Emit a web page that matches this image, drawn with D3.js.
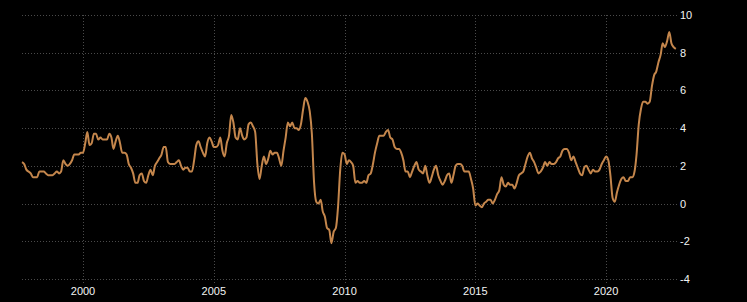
<!DOCTYPE html>
<html>
<head>
<meta charset="utf-8">
<script src="https://cdn.jsdelivr.net/npm/d3@7"></script>
<style>
  html, body { margin: 0; padding: 0; background: #000; }
  svg { display: block; }
</style>
</head>
<body>
<div id="chart"></div>
<script>
// monthly values, Sep 1997 .. Sep 2022
const startYear = 1997, startMonth = 8; // 0-based month (Sep)
const values = [
  2.2, 2.1, 1.8, 1.7,
  1.6, 1.4, 1.4, 1.4, 1.7, 1.7, 1.7, 1.6, 1.5, 1.5, 1.5, 1.6,
  1.7, 1.6, 1.7, 2.3, 2.1, 2.0, 2.1, 2.3, 2.6, 2.6, 2.6, 2.7,
  2.7, 3.2, 3.8, 3.1, 3.2, 3.7, 3.7, 3.4, 3.5, 3.4, 3.4, 3.4,
  3.7, 3.5, 2.9, 3.3, 3.6, 3.2, 2.7, 2.7, 2.6, 2.1, 1.9, 1.6,
  1.1, 1.1, 1.5, 1.6, 1.2, 1.1, 1.5, 1.8, 1.5, 2.0, 2.2, 2.4,
  2.6, 3.0, 3.0, 2.2, 2.1, 2.1, 2.1, 2.2, 2.3, 2.0, 1.8, 1.9,
  1.9, 1.7, 1.7, 2.3, 3.1, 3.3, 3.0, 2.7, 2.5, 3.2, 3.5, 3.3,
  3.0, 3.0, 3.1, 3.5, 2.8, 2.5, 3.2, 3.6, 4.7, 4.3, 3.5, 3.4,
  4.0, 3.6, 3.4, 3.5, 4.2, 4.3, 4.1, 3.8, 2.1, 1.3, 2.0, 2.5,
  2.1, 2.4, 2.8, 2.6, 2.7, 2.7, 2.4, 2.0, 2.8, 3.5, 4.3, 4.1,
  4.3, 4.0, 4.0, 3.9, 4.2, 5.0, 5.6, 5.4, 4.9, 3.7, 1.1, 0.1,
  0.0, 0.2, -0.4, -0.7, -1.3, -1.4, -2.1, -1.5, -1.3, -0.2, 1.8, 2.7,
  2.6, 2.1, 2.3, 2.2, 2.0, 1.1, 1.2, 1.1, 1.1, 1.2, 1.1, 1.5,
  1.6, 2.1, 2.7, 3.2, 3.6, 3.6, 3.6, 3.8, 3.9, 3.5, 3.4, 3.0,
  2.9, 2.9, 2.7, 2.3, 1.7, 1.7, 1.4, 1.7, 2.0, 2.2, 1.8, 1.7,
  1.6, 2.0, 1.5, 1.1, 1.4, 1.8, 2.0, 1.5, 1.2, 1.0, 1.2, 1.5,
  1.6, 1.1, 1.5, 2.0, 2.1, 2.1, 2.0, 1.7, 1.7, 1.7, 1.3, 0.8,
  -0.1, 0.0, -0.1, -0.2, 0.0, 0.1, 0.2, 0.2, 0.0, 0.2, 0.5, 0.7,
  1.4, 1.0, 0.9, 1.1, 1.0, 1.0, 0.8, 1.1, 1.5, 1.6, 1.7, 2.1,
  2.5, 2.7, 2.4, 2.2, 1.9, 1.6, 1.7, 1.9, 2.2, 2.0, 2.2, 2.1,
  2.1, 2.2, 2.4, 2.5, 2.8, 2.9, 2.9, 2.7, 2.3, 2.5, 2.2, 1.9,
  1.6, 1.5, 1.9, 2.0, 1.8, 1.6, 1.8, 1.7, 1.7, 1.8, 2.1, 2.3,
  2.5, 2.3, 1.5, 0.3, 0.1, 0.6, 1.0, 1.3, 1.4, 1.2, 1.2, 1.4,
  1.4, 1.7, 2.6, 4.2, 5.0, 5.4, 5.4, 5.3, 5.4, 6.2, 6.8, 7.0,
  7.5, 7.9, 8.5, 8.3, 8.6, 9.1, 8.5, 8.3, 8.2
];
const xTicks = [2000, 2005, 2010, 2015, 2020];
const yTicks = [10, 8, 6, 4, 2, 0, -2, -4];

const width = 747, height = 302;
const margin = {top: 15, right: 69, bottom: 23, left: 22};

const data = values.map((v, i) => ({
  date: new Date(startYear, startMonth + i, 1),
  value: v
}));

const svg = d3.select("#chart").append("svg")
  .attr("width", width)
  .attr("height", height)
  .style("background", "#000");

const x = d3.scaleTime()
  .domain([new Date(1997, 8, 1), new Date(2022, 9, 1)])
  .range([margin.left, width - margin.right]);

const y = d3.scaleLinear()
  .domain([-4, 10])
  .range([height - margin.bottom, margin.top]);

// horizontal grid
svg.append("g")
  .selectAll("line")
  .data(yTicks)
  .join("line")
  .attr("x1", margin.left)
  .attr("x2", width - margin.right)
  .attr("y1", d => Math.round(y(d)) + 0.5)
  .attr("y2", d => Math.round(y(d)) + 0.5)
  .attr("stroke", "#4a4a4a")
  .attr("stroke-dasharray", "1,2");

// vertical grid
svg.append("g")
  .selectAll("line")
  .data(xTicks)
  .join("line")
  .attr("x1", d => Math.round(x(new Date(d, 0, 1))) + 0.5)
  .attr("x2", d => Math.round(x(new Date(d, 0, 1))) + 0.5)
  .attr("y1", margin.top)
  .attr("y2", height - margin.bottom + 4)
  .attr("stroke", "#4a4a4a")
  .attr("stroke-dasharray", "1,2");

// x labels
svg.append("g")
  .selectAll("text")
  .data(xTicks)
  .join("text")
  .attr("x", d => x(new Date(d, 0, 1)))
  .attr("y", height - 7)
  .attr("text-anchor", "middle")
  .attr("fill", "#f2f4f4")
  .style("font", "11px 'Liberation Sans', Arial, sans-serif")
  .text(d => d);

// y labels
svg.append("g")
  .selectAll("text")
  .data(yTicks)
  .join("text")
  .attr("x", width - margin.right + 2)
  .attr("y", d => y(d) + 4)
  .attr("fill", "#f2f4f4")
  .style("font", "11px 'Liberation Sans', Arial, sans-serif")
  .text(d => d);

const line = d3.line()
  .x(d => x(d.date))
  .y(d => y(d.value))
  .curve(d3.curveMonotoneX);

svg.append("path")
  .datum(data)
  .attr("fill", "none")
  .attr("stroke", "#c4864c")
  .attr("stroke-width", 2)
  .attr("d", line);
</script>
</body>
</html>
